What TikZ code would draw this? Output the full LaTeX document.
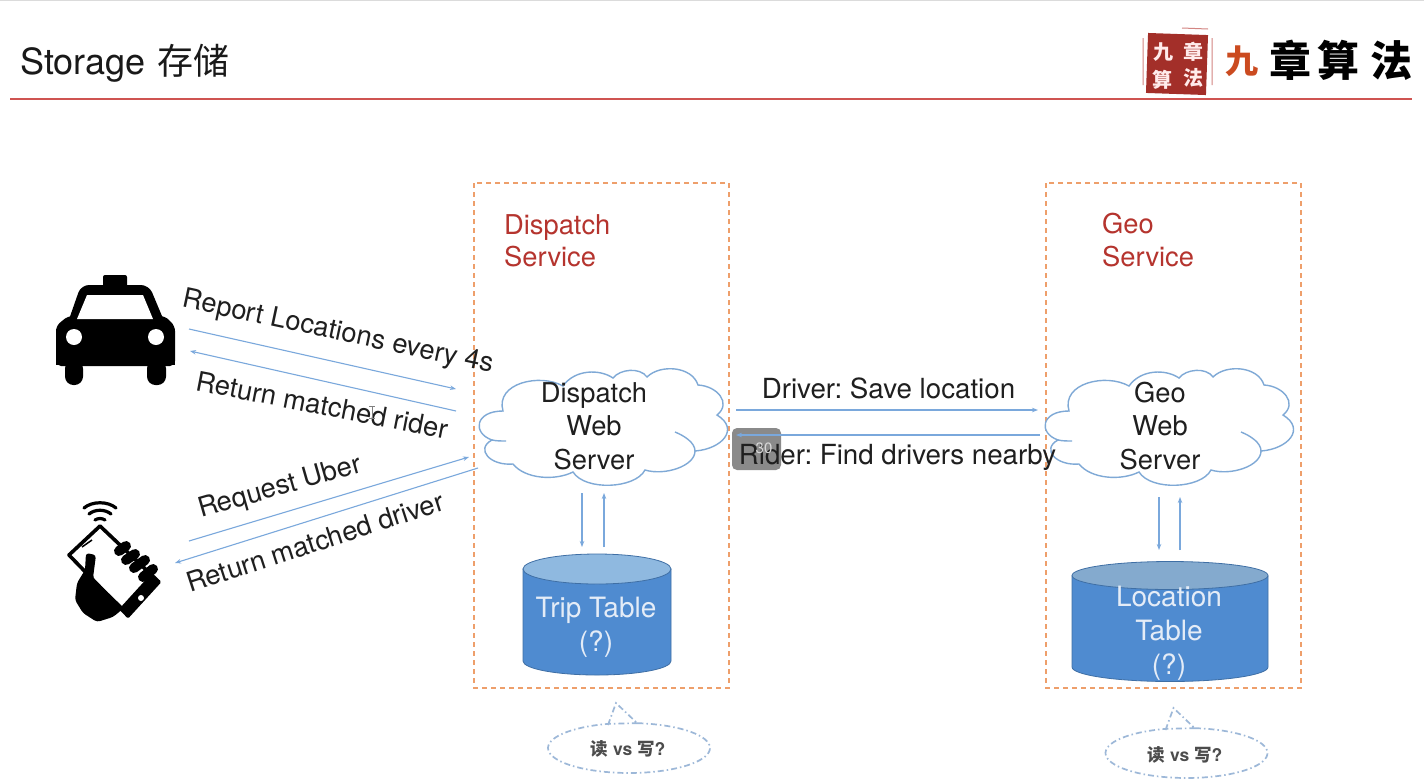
\documentclass[tikz,border=0pt]{standalone}
\usepackage{fontspec}
\setmainfont{TeX Gyre Heros}
\newfontfamily\cjk{Noto Sans CJK SC}
\usetikzlibrary{arrows.meta}
\frenchspacing
\definecolor{linkblue}{HTML}{7AA8DC}
\definecolor{cloudblue}{HTML}{7FA9D6}
\definecolor{boxorange}{HTML}{EE9F6B}
\definecolor{labelred}{HTML}{B5342E}
\definecolor{rulered}{HTML}{CF5451}
\definecolor{dbside}{HTML}{4F8BD0}
\definecolor{dbtop}{HTML}{8FB9E0}
\definecolor{dbedge}{HTML}{3F6FA5}
\definecolor{dbink}{HTML}{E4ECF7}
\definecolor{bubbleblue}{HTML}{9DB8D8}
\tikzset{
  x=1pt,y=-1pt,
  txt/.style={font=\fontsize{27.3}{33.5}\selectfont,text=black!88,inner sep=0pt,align=center},
  link/.style={draw=linkblue,line width=1.1pt,-{Stealth[length=6pt,width=4.5pt]}},
  svcbox/.style={draw=boxorange,line width=1.8pt,dash pattern=on 5pt off 4pt},
  svclabel/.style={font=\fontsize{27.3}{32.5}\selectfont,text=labelred,inner sep=0pt,align=left,anchor=north west},
  dbtext/.style={font=\fontsize{28}{34}\selectfont,text=dbink,inner sep=0pt,align=center},
  sealchar/.style={inner sep=0pt,text=white!92!red,font=\cjk\bfseries\fontsize{20}{20}\selectfont},
  logochar/.style={inner sep=0pt,text=black,font=\cjk\bfseries\fontsize{42}{42}\selectfont},
  qtext/.style={inner sep=0pt,text=black!70,font=\bfseries\fontsize{17.5}{18}\selectfont},
  pics/webcloud/.style={code={
    \draw[cloudblue,line width=1.4pt,fill=white]
      (22,79) .. controls (2,72) and (5,50) .. (33,50)
      .. controls (25,22) and (70,12) .. (93,25)
      .. controls (105,8) and (130,8) .. (143,17)
      .. controls (150,8) and (170,6) .. (177,16)
      .. controls (190,3) and (222,5) .. (228,24)
      .. controls (247,25) and (262,42) .. (247,54)
      .. controls (270,68) and (252,88) .. (225,90)
      .. controls (225,105) and (195,115) .. (175,109)
      .. controls (165,128) and (115,130) .. (103,111)
      .. controls (85,120) and (55,118) .. (43,103)
      .. controls (20,105) and (5,88) .. cycle;
    \draw[cloudblue,line width=1.4pt] (205,71) .. controls (215,75) and (225,82) .. (225,90);
    \draw[cloudblue,line width=1.4pt] (22,79) .. controls (26,80) and (32,80) .. (36,80);
  }},
  pics/speech/.style={code={
    \draw[bubbleblue,line width=1.7pt,dash pattern=on 6pt off 3pt on 1.5pt off 3pt]
      (-21,-23) -- (-13,-45) -- (8,-25)
      plot[domain=84:-255,samples=70] ({81*cos(\x)},{-25*sin(\x)}) -- cycle;
  }},
}
\begin{document}
\begin{tikzpicture}
\useasboundingbox (0,0) rectangle (1424,780);
\fill[white] (0,0) rectangle (1424,780);
\fill[black!14] (0,0) rectangle (1424,1.2);

% title
\node[anchor=west,inner sep=0pt,font=\fontsize{36}{40}\selectfont,text=black!90] (title) at (20,63) {Storage\hspace{12pt}{\cjk 存储}};
\draw[rulered,line width=2.6pt] (10,99) -- (1412,99);

% logo
\fill[labelred!90!black,rotate around={-2:(1177,64)}] (1147,34) rectangle (1207,94);
\draw[labelred!60,line width=1pt] (1182,28) -- (1208,29) (1212,38) -- (1212,85) (1143,38) -- (1143,85);
\node[sealchar] (seal1) at (1163,52) {九};
\node[sealchar] (seal2) at (1162,80) {算};
\node[sealchar] (seal3) at (1193,52) {章};
\node[sealchar] (seal4) at (1193,78) {法};
\node[logochar,text=labelred!70!orange,font=\cjk\bfseries\fontsize{33}{33}\selectfont] (logo1) at (1242,61) {九};
\node[logochar] (logo2) at (1290,60) {章};
\node[logochar] (logo3) at (1338,60) {算};
\node[logochar] (logo4) at (1391,61) {法};

% service boxes
\draw[svcbox] (474,183) rectangle (729,688);
\draw[svcbox] (1046,183) rectangle (1301,688);
\node[svclabel] (dlabel) at (504,214) {Dispatch\\Service};
\node[svclabel] (glabel) at (1102,213) {Geo\\Service};

% taxi
\fill[black,rounded corners=2pt] (103,275) rectangle (127,292);
\fill[black,rounded corners=8pt] (66,328) -- (81,285) -- (149,285) -- (167,328) -- cycle;
\fill[black,rounded corners=5pt] (56,366) -- (56,326) -- (68,316) -- (165,316) -- (175,326) -- (175,366) -- cycle;
\fill[black] (56,355) rectangle (175,365);
\fill[white] (87,295) -- (143,295) -- (153,319) -- (77,319) -- cycle;
\fill[white] (74,337) circle[radius=8];
\fill[white] (156,337) circle[radius=8];
\fill[black,rounded corners=8.5pt] (65,360) -- (65,385) -- (83,385) -- (83,360) -- cycle;
\fill[black,rounded corners=8.5pt] (147,360) -- (147,385) -- (166,385) -- (166,360) -- cycle;

% phone
\draw[black,line width=3.2pt,line cap=round] (84,508) .. controls (92,501) and (108,501) .. (116,508);
\draw[black,line width=3.2pt,line cap=round] (89,514) .. controls (95,509) and (105,509) .. (111,514);
\draw[black,line width=3.2pt,line cap=round] (95,520) .. controls (98,518) and (102,518) .. (105,520);
\draw[black,fill=white,line width=3.6pt,line join=round] (100,526) -- (69,555) -- (128,616) -- (159,582) -- cycle;
\fill[black] (159,582) -- (128,616) -- (120,608) -- (151,574) -- cycle;
\fill[white] (141,598) circle[radius=3];
\draw[black,line width=1.5pt] (82,547) -- (92,540);
\fill[black,line join=round,rounded corners=3pt] (86,553) -- (85,570) -- (77,583) -- (75,600) -- (83,613) -- (97,622) -- (113,617) -- (124,608) -- (93,578) -- (96,555) -- cycle;
\draw[black,line width=10pt,line cap=round] (119,551) -- (126,546);
\draw[black,line width=10pt,line cap=round] (126,560) -- (135,554);
\draw[black,line width=10pt,line cap=round] (134,568) -- (145,560);
\draw[black,line width=10pt,line cap=round] (143,577) -- (153,569);

% connector ends
\coordinate (carOut) at (189,329);
\coordinate (dIn1) at (456,389);
\coordinate (dOut1) at (456,411);
\coordinate (carIn) at (190,351);
\coordinate (phOut) at (189,541);
\coordinate (dIn2) at (469,457);
\coordinate (dOut2) at (478,468);
\coordinate (phIn) at (175,563);

\draw[link] (carOut) -- (dIn1);
\draw[link] (dOut1) -- (carIn);
\draw[link] (phOut) -- (dIn2);
\draw[link] (dOut2) -- (phIn);

% clouds
\pic at (470,361) {webcloud};
\pic at (1036,361) {webcloud};
\node[txt] (dweb) at (594,426) {Dispatch\\Web\\Server};
\node[txt] (gweb) at (1160,426) {Geo\\Web\\Server};

% time badge
\fill[black!46,rounded corners=5pt] (732,428) rectangle (781,470) ;

\coordinate (dE1) at (736,410);
\coordinate (gW1) at (1038,410);
\coordinate (gW2) at (1040,435);
\coordinate (dE2) at (736,435);
\draw[link] (dE1) -- (gW1);
\draw[link] (gW2) -- (dE2);

% rotated labels
\node[txt,rotate=-12] (l1) at (338,333) {Report Locations every 4s};
\node[txt,rotate=-11] (l2) at (322,405) {Return matched rider};
\node[txt,rotate=16] (l3) at (280,488) {Request Uber};
\node[txt,rotate=18] (l4) at (315,542) {Return matched driver};
\node[txt,font=\fontsize{27.7}{33.5}\selectfont] (l5) at (888.5,388) {Driver: Save location};
\node[txt,font=\fontsize{27.7}{33.5}\selectfont] (l6) at (897.5,457) {Rider: Find drivers nearby};
\node[inner sep=0pt,text=white!85!black,font=\fontsize{15}{15}\selectfont] (badge) at (764,448) {30};
\draw[black!50,line width=.8pt] (369,406) -- (375,406) (372,406) -- (372,418) (369,418) -- (375,418);

% databases
\coordinate (dbA) at (582,493);
\coordinate (dbAe) at (582,547);
\coordinate (dbB) at (604,547);
\coordinate (dbBe) at (604,493);
\coordinate (dbC) at (1159,497);
\coordinate (dbCe) at (1159,550);
\coordinate (dbD) at (1180,550);
\coordinate (dbDe) at (1180,497);
\draw[link] (dbA) -- (dbAe);
\draw[link] (dbB) -- (dbBe);
\draw[link] (dbC) -- (dbCe);
\draw[link] (dbD) -- (dbDe);

\draw[dbedge,line width=.8pt,fill=dbside] (523,569) -- (523,661) arc[start angle=180,end angle=360,x radius=74,y radius=-14] -- (671,569) -- cycle;
\draw[dbedge,line width=.8pt,fill=dbtop] (597,569) ellipse[x radius=74,y radius=15];
\node[dbtext] (trip) at (596,627.5) {Trip Table\\(?)};

\draw[dbedge,line width=.8pt,fill=dbside] (1072,576) -- (1072,667) arc[start angle=180,end angle=360,x radius=98,y radius=-14.5] -- (1268,576) -- cycle;
\draw[dbedge,line width=.8pt,fill=dbtop!92!black] (1170,575.5) ellipse[x radius=98,y radius=14];
\node[dbtext] (loc) at (1169,633) {Location\\Table\\(?)};

% bubbles
\pic at (629,748) {speech};
\pic at (1186.5,753) {speech};
\node[qtext] (q1) at (628,749) {{\cjk 读} vs {\cjk 写}?};
\node[qtext] (q2) at (1185,755) {{\cjk 读} vs {\cjk 写}?};
\end{tikzpicture}
\end{document}
